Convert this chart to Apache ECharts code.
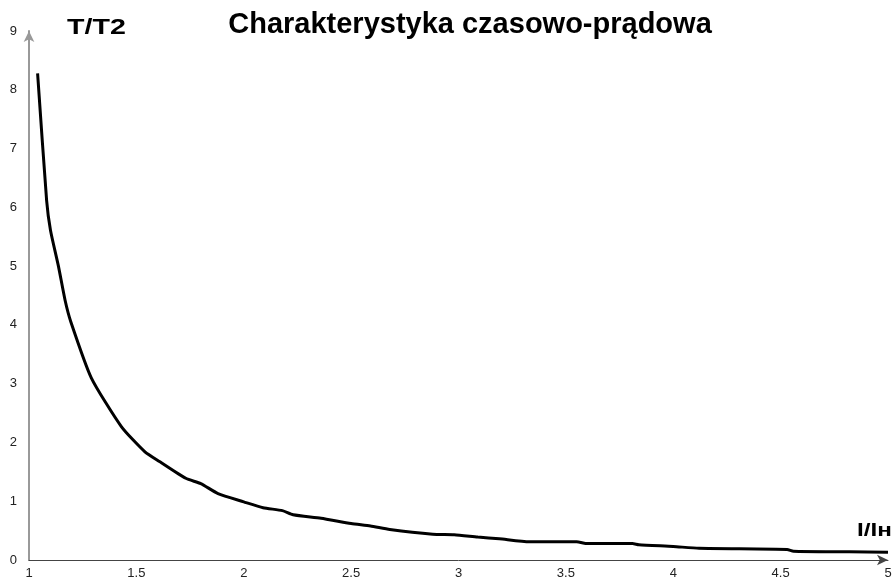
<!DOCTYPE html>
<html>
<head>
<meta charset="utf-8">
<script src="https://cdn.jsdelivr.net/npm/echarts@6/dist/echarts.min.js"></script>
<style>html,body{margin:0;padding:0;background:#fff}#c{width:896px;height:581px}</style>
</head>
<body>
<div id="c"></div>
<script>
const currentRatio = [1.04, 1.082, 1.10, 1.137, 1.168, 1.195, 1.29, 1.43, 1.54, 1.61, 1.73, 1.80, 1.88, 2.0, 2.09, 2.18, 2.23, 2.36, 2.50, 2.59, 2.68, 2.88, 2.98, 3.09, 3.19, 3.33, 3.55, 3.60, 3.81, 3.84, 4.0, 4.12, 4.53, 4.56, 4.82, 5.0];
const timeRatio = [8.28, 6.12, 5.61, 5.0, 4.42, 4.05, 3.10, 2.27, 1.84, 1.67, 1.39, 1.30, 1.13, 0.99, 0.89, 0.84, 0.77, 0.71, 0.62, 0.58, 0.52, 0.44, 0.43, 0.39, 0.36, 0.31, 0.31, 0.28, 0.28, 0.26, 0.23, 0.20, 0.18, 0.15, 0.14, 0.13];
const titleText = 'Charakterystyka czasowo-prądowa';
const yName = 'T/T2';
const xName = 'I/Iн';

const FONT = 'Liberation Sans, Arial, sans-serif';
const chart = echarts.init(document.getElementById('c'));
chart.setOption({
  animation: false,
  backgroundColor: '#fff',
  textStyle: { fontFamily: FONT },
  graphic: [
    { type: 'text', x: 470, y: 10, style: { text: titleText, font: 'bold 29px ' + FONT, fill: '#000', textAlign: 'center', textVerticalAlign: 'top' } },
    { type: 'text', x: 67, y: 17, scaleX: 1.3, style: { text: yName, font: 'bold 22px ' + FONT, fill: '#000', textAlign: 'left', textVerticalAlign: 'top' } },
    { type: 'text', x: 857, y: 522, scaleX: 1.35, style: { text: xName, font: 'bold 18px ' + FONT, fill: '#000', textAlign: 'left', textVerticalAlign: 'top' } }
  ],
  grid: { left: 29, right: 8, top: 31, bottom: 21 },
  xAxis: {
    type: 'value', min: 1, max: 5, interval: 0.5,
    axisLine: { show: true, symbol: ['none', 'arrow'], symbolSize: [8, 11], lineStyle: { color: '#444', width: 1 } },
    axisTick: { show: false },
    splitLine: { show: false },
    axisLabel: { color: '#222', fontSize: 13, margin: 7, showMaxLabel: true, showMinLabel: true }
  },
  yAxis: {
    type: 'value', min: 0, max: 9, interval: 1,
    axisLine: { show: true, symbol: ['none', 'arrow'], symbolSize: [8, 11], lineStyle: { color: '#999', width: 2 } },
    axisTick: { show: false },
    splitLine: { show: false },
    axisLabel: { color: '#222', fontSize: 13, margin: 12 }
  },
  series: [{
    type: 'line',
    data: currentRatio.map((x, i) => [x, timeRatio[i]]),
    showSymbol: false,
    smooth: 0.2,
    lineStyle: { color: '#000', width: 3 }
  }]
});
</script>
</body>
</html>
